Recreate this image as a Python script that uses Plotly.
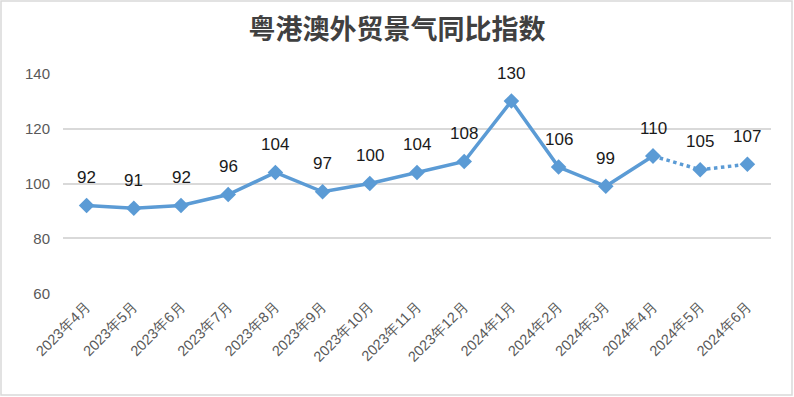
import plotly.graph_objects as go

categories = ["2023年4月", "2023年5月", "2023年6月", "2023年7月", "2023年8月", "2023年9月",
              "2023年10月", "2023年11月", "2023年12月", "2024年1月", "2024年2月", "2024年3月",
              "2024年4月", "2024年5月", "2024年6月"]
values = [92, 91, 92, 96, 104, 97, 100, 104, 108, 130, 106, 99, 110, 105, 107]
y_ticks = [60, 80, 100, 120, 140]

color = "#5B9BD5"
fig = go.Figure()
fig.add_trace(go.Scatter(x=categories[:13], y=values[:13], mode="lines+markers",
                         line=dict(color=color, width=3.5),
                         marker=dict(symbol="diamond", size=12, color=color)))
fig.add_trace(go.Scatter(x=categories[12:], y=values[12:], mode="lines+markers",
                         line=dict(color=color, width=3.5, dash="dot"),
                         marker=dict(symbol="diamond", size=12, color=color)))

for c, v in zip(categories, values):
    fig.add_annotation(x=c, y=v, text=str(v), showarrow=False, yshift=28,
                       font=dict(family="Liberation Sans, Arial", size=17, color="#1a1a1a"))

# chart border
fig.add_shape(type="rect", xref="paper", yref="paper",
              x0=(1 - 63) / 708, x1=(792 - 63) / 708,
              y0=(294 - 395) / 221, y1=(294 - 1) / 221,
              line=dict(color="#d9d9d9", width=1.5))

fig.update_layout(
    width=794, height=397,
    margin=dict(l=63, r=23, t=73, b=103, autoexpand=False),
    paper_bgcolor="white", plot_bgcolor="white",
    showlegend=False,
    title=dict(text="<b>粤港澳外贸景气同比指数</b>", x=0.5, xref="container", xanchor="center",
               y=1 - 30 / 397, yanchor="middle",
               font=dict(family="Noto Sans CJK SC", size=27, color="#404040")),
    xaxis=dict(type="category", range=[-0.5, 14.5], tickangle=-45, showgrid=False,
               showline=False, ticks="", automargin=False,
               tickfont=dict(family="Liberation Sans, Arial", size=14.5, color="#595959")),
    yaxis=dict(range=[59.8, 140.2], tickvals=y_ticks, showgrid=True, gridcolor="#d9d9d9",
               gridwidth=1.5, zeroline=False, showline=False, ticks="", ticklen=0,
               automargin=False, ticklabelstandoff=12,
               tickfont=dict(family="Liberation Sans, Arial", size=15, color="#595959")),
)
fig.write_html("out.html", config={"displayModeBar": False},
               post_script="document.body.style.margin='0';")
